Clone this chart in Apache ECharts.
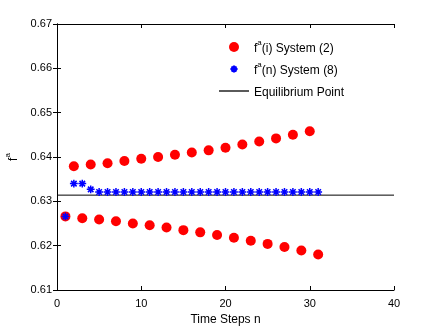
<!DOCTYPE html>
<html><head><meta charset="utf-8">
<script src="https://cdn.jsdelivr.net/npm/echarts@6/dist/echarts.min.js"></script>
<style>html,body{margin:0;padding:0;background:#fff}#c{width:436px;height:328px}</style>
</head><body><div id="c"></div>
<script>
// Data
const upperSteps = [2,4,6,8,10,12,14,16,18,20,22,24,26,28,30];
const upperValues = [0.6379,0.6383,0.6386,0.6391,0.6396,0.6400,0.6405,0.6410,0.6415,0.6421,0.6428,0.6435,0.6442,0.6450,0.6458];
const lowerSteps = [1,3,5,7,9,11,13,15,17,19,21,23,25,27,29,31];
const lowerValues = [0.6266,0.6262,0.6259,0.6255,0.6250,0.6246,0.6241,0.6235,0.6230,0.6224,0.6218,0.6211,0.6204,0.6197,0.6189,0.6180];
const starSteps = [1,2,3,4,5,6,7,8,9,10,11,12,13,14,15,16,17,18,19,20,21,22,23,24,25,26,27,28,29,30,31];
const starValues = [0.6266,0.6340,0.6340,0.6327,0.6321,0.6321,0.6321,0.6321,0.6321,0.6321,0.6321,0.6321,0.6321,0.6321,0.6321,0.6321,0.6321,0.6321,0.6321,0.6321,0.6321,0.6321,0.6321,0.6321,0.6321,0.6321,0.6321,0.6321,0.6321,0.6321,0.6321];
const equilibriumX = [0, 40];
const equilibriumValue = 0.6314;
const xTicks = [0,10,20,30,40];
const yTicks = [0.61,0.62,0.63,0.64,0.65,0.66,0.67];
const seriesNames = ['sys2','sys8','eq'];
const legendLabels = {
  sys2: '{t|f}{s|a}{t|(i) System (2)}',
  sys8: '{t|f}{s|a}{t|(n) System (8)}',
  eq: '{t|Equilibrium Point}{s| }'
};

const font = 'Liberation Sans, Arial, Helvetica, sans-serif';
const chart = echarts.init(document.getElementById('c'));
const pairs = (xs, ys) => xs.map((x, i) => [x, ys[i]]);
// asterisk with invisible margin points so the legend icon comes out smaller
const starPath = 'path://M-2,-2M12,12M5,0L5,10M0,5L10,5M1.5,1.5L8.5,8.5M8.5,1.5L1.5,8.5';
const axisLine = {show: true, lineStyle: {color: '#000', width: 1}};
const tick = {show: true, inside: true, length: 4, lineStyle: {color: '#000'}};
const rich = {
  t: {fontSize: 12, fontFamily: font, color: '#000', lineHeight: 16, verticalAlign: 'bottom'},
  s: {fontSize: 8, fontFamily: font, color: '#000', lineHeight: 16, verticalAlign: 'top'}
};

chart.setOption({
  animation: false,
  backgroundColor: '#fff',
  grid: {left: 57, right: 42, top: 24, bottom: 38, containLabel: false, outerBoundsMode: 'none'},
  legend: {
    orient: 'vertical', left: 214, top: 34, itemWidth: 30, itemHeight: 10, itemGap: 6,
    data: [
      {name: 'sys2'},
      {name: 'sys8'},
      {name: 'eq', icon: 'path://M0,0L30,0L30,1.3L0,1.3Z', itemStyle: {color: '#000'}}
    ],
    formatter: n => legendLabels[n],
    textStyle: {color: '#000', fontFamily: font, fontSize: 12, rich: rich}
  },
  xAxis: [{
    type: 'value', min: xTicks[0], max: xTicks[xTicks.length-1], interval: 10,
    name: 'Time Steps n', nameLocation: 'middle', nameGap: 22,
    nameTextStyle: {color: '#000', fontFamily: font, fontSize: 12},
    axisLine: axisLine, axisTick: tick, splitLine: {show: false},
    axisLabel: {color: '#000', fontFamily: font, fontSize: 11, margin: 8}
  }, {
    type: 'value', position: 'top', min: xTicks[0], max: xTicks[xTicks.length-1], interval: 10,
    axisLine: axisLine, axisTick: tick, axisLabel: {show: false}, splitLine: {show: false}
  }],
  yAxis: [{
    type: 'value', min: yTicks[0], max: yTicks[yTicks.length-1], interval: 0.01,
    name: '{t|f}{s|a}', nameLocation: 'middle', nameGap: 34, nameRotate: 90,
    nameTextStyle: {color: '#000', fontFamily: font, fontSize: 12, rich: rich},
    axisLine: axisLine, axisTick: tick, splitLine: {show: false},
    axisLabel: {color: '#000', fontFamily: font, fontSize: 11, margin: 5, formatter: v => v.toFixed(2)}
  }, {
    type: 'value', position: 'right', min: yTicks[0], max: yTicks[yTicks.length-1], interval: 0.01,
    axisLine: axisLine, axisTick: tick, axisLabel: {show: false}, splitLine: {show: false}
  }],
  series: [{
    name: 'eq', type: 'line', data: pairs(equilibriumX, [equilibriumValue, equilibriumValue]),
    symbol: 'none', lineStyle: {color: '#000', width: 1}, itemStyle: {color: '#000'}, z: 1
  }, {
    name: 'sys2', type: 'scatter', data: pairs(upperSteps, upperValues).concat(pairs(lowerSteps, lowerValues)),
    symbol: 'circle', symbolSize: 10, itemStyle: {color: '#ff0000', opacity: 1}, z: 2
  }, {
    name: 'sys8', type: 'scatter', data: pairs(starSteps, starValues),
    symbol: starPath, symbolSize: 11,
    itemStyle: {color: 'rgba(0,0,0,0)', borderColor: '#0000ff', borderWidth: 1.5, opacity: 1}, z: 3
  }]
});
</script></body></html>
